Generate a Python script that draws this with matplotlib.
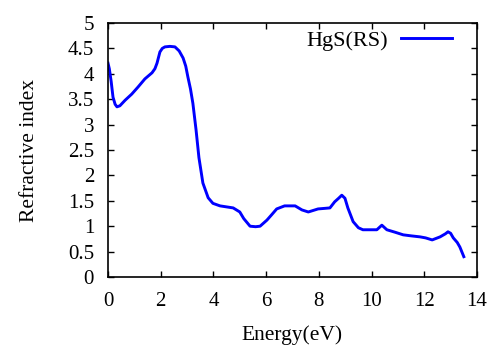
import numpy as np
import matplotlib
matplotlib.use('Agg')
import matplotlib.pyplot as plt

# refractive index of HgS (rock salt)
energy = [0.0, 0.05, 0.12, 0.19, 0.27, 0.34, 0.45, 0.65, 0.9, 1.14, 1.4, 1.67, 1.78,
          1.86, 1.97, 2.06, 2.16, 2.35, 2.54, 2.7, 2.85, 2.95, 3.03, 3.13, 3.22,
          3.34, 3.45, 3.6, 3.8, 3.98, 4.25, 4.5, 4.75, 5.0, 5.15, 5.39, 5.6, 5.77,
          6.03, 6.2, 6.4, 6.7, 7.1, 7.36, 7.6, 7.97, 8.2, 8.42, 8.6, 8.75, 8.87,
          8.99, 9.1, 9.3, 9.5, 9.67, 10.2, 10.39, 10.58, 10.9, 11.2, 11.5, 11.84,
          12.05, 12.3, 12.6, 12.8, 12.9, 13.0, 13.1, 13.25, 13.35, 13.5]
n_refr = [4.21, 4.1, 3.85, 3.54, 3.4, 3.35, 3.37, 3.48, 3.6, 3.74, 3.9, 4.02, 4.1,
          4.21, 4.43, 4.5, 4.53, 4.54, 4.53, 4.45, 4.31, 4.15, 3.94, 3.7, 3.42,
          2.9, 2.35, 1.85, 1.56, 1.45, 1.4, 1.38, 1.36, 1.28, 1.15, 1.0, 0.99,
          1.0, 1.12, 1.22, 1.34, 1.4, 1.4, 1.32, 1.28, 1.34, 1.35, 1.36, 1.48,
          1.55, 1.61, 1.55, 1.36, 1.09, 0.97, 0.93, 0.93, 1.02, 0.93, 0.88, 0.83,
          0.81, 0.79, 0.77, 0.73, 0.79, 0.85, 0.89, 0.86, 0.77, 0.68, 0.59, 0.4]

plt.rcParams['font.family'] = 'Liberation Serif'

fig = plt.figure(figsize=(4.92, 3.45), dpi=100)
ax = fig.add_axes([108/492, 1-277/345, (477-108)/492, (277-23)/345])

ax.plot(energy, n_refr, color='#0000ff', lw=2.1, label='HgS(RS)')
ax.set_xlim(0, 14)
ax.set_ylim(0, 5)
ax.set_xticks(np.arange(0, 15, 2))
ax.set_yticks(np.arange(0, 5.01, 0.5))
ax.set_yticklabels(['0', '0.5', '1', '1.5', '2', '2.5', '3', '3.5', '4', '4.5', '5'])
ax.tick_params(direction='in', top=True, right=True, length=4, width=1,
               labelsize=15)
ax.tick_params(axis='x', pad=11)
ax.tick_params(axis='y', pad=10)
for s in ax.spines.values():
    s.set_linewidth(1.2)

ax.set_xlabel('Energy(eV)', fontsize=15.5, labelpad=10)
ax.set_ylabel('Refractive index', fontsize=15.5, labelpad=21)

leg = ax.legend(loc='upper right', frameon=False, fontsize=16, markerfirst=False,
                handlelength=2.3, handletextpad=0.6, borderpad=0, borderaxespad=0,
                bbox_to_anchor=((452-108)/369, 0.97))

fig.savefig('out.png', dpi=100)
